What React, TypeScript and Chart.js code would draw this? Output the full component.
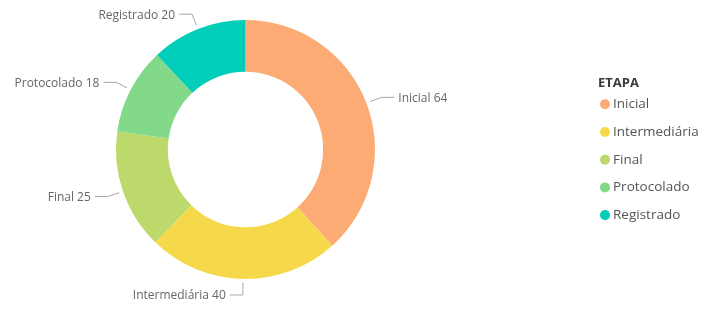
import React, { useEffect, useRef } from "react";
import { Chart, registerables } from "chart.js";

Chart.register(...registerables);

const categories = ["Inicial", "Intermediária", "Final", "Protocolado", "Registrado"];
const values = [64, 40, 25, 18, 20];
const legendTitle = "ETAPA";

const COLORS = ["#FDAB74", "#F6D94A", "#BDD96B", "#83D98A", "#02CDB8"];
const FONT = "'Open Sans', 'Noto Sans', sans-serif";

const labelPlugin = {
  id: "outerLabels",
  afterDraw(chart: any) {
    const ctx = chart.ctx as CanvasRenderingContext2D;
    const meta = chart.getDatasetMeta(0);
    ctx.save();
    ctx.font = `12px ${FONT}`;
    ctx.textBaseline = "middle";
    meta.data.forEach((arc: any, i: number) => {
      const { startAngle, endAngle, x, y, outerRadius } = arc.getProps(
        ["startAngle", "endAngle", "x", "y", "outerRadius"],
        true
      );
      const mid = (startAngle + endAngle) / 2;
      const c = Math.cos(mid);
      const s = Math.sin(mid);
      const r1 = outerRadius + 4;
      const r2 = outerRadius + 16;
      const x1 = x + c * r1;
      const y1 = y + s * r1;
      const x2 = x + c * r2;
      const y2 = y + s * r2;
      const dir = c >= 0 ? 1 : -1;
      const x3 = x2 + dir * 13;
      ctx.strokeStyle = "#A6A6A6";
      ctx.lineWidth = 1;
      ctx.beginPath();
      ctx.moveTo(x1, y1);
      ctx.lineTo(x2, y2);
      ctx.lineTo(x3, y2);
      ctx.stroke();
      ctx.fillStyle = "#666666";
      ctx.textAlign = dir > 0 ? "left" : "right";
      ctx.fillText(`${categories[i]} ${values[i]}`, x3 + dir * 4, y2 + 1);
    });

    // legend
    ctx.textAlign = "left";
    ctx.fillStyle = "#3A3A3A";
    ctx.font = `bold 13px ${FONT}`;
    ctx.fillText(legendTitle, 598, 83);
    ctx.font = `13.5px ${FONT}`;
    categories.forEach((cat, i) => {
      const cy = 104.3 + i * 27.7;
      ctx.fillStyle = COLORS[i];
      ctx.beginPath();
      ctx.arc(605, cy, 5, 0, Math.PI * 2);
      ctx.fill();
      ctx.fillStyle = "#555555";
      ctx.fillText(cat, 613, cy);
    });
    ctx.restore();
  },
};

export default function App() {
  const ref = useRef<HTMLCanvasElement | null>(null);
  useEffect(() => {
    if (!ref.current) return;
    const chart = new Chart(ref.current, {
      type: "doughnut",
      data: {
        labels: categories,
        datasets: [
          {
            data: values,
            backgroundColor: COLORS,
            borderWidth: 0,
            hoverOffset: 0,
            offset: 0,
          },
        ],
      },
      options: {
        responsive: false,
        animation: false,
        devicePixelRatio: 1,
        cutout: "60%",
        layout: { padding: { left: 116, right: 328, top: 20, bottom: 30 } },
        plugins: {
          legend: { display: false },
          tooltip: { enabled: false },
        },
      },
      plugins: [labelPlugin],
    });
    return () => chart.destroy();
  }, []);
  return (
    <div style={{ position: "fixed", left: 0, top: 0, width: 703, height: 309, background: "#fff" }}>
      <canvas ref={ref} width={703} height={309} style={{ width: 703, height: 309 }} />
    </div>
  );
}
